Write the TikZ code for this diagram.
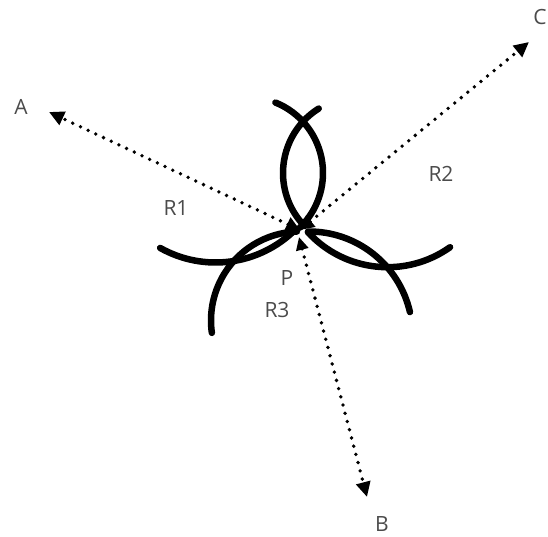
\documentclass[tikz,border=0pt]{standalone}
\usepackage{fontspec}
\setmainfont{Open Sans}
\usetikzlibrary{arrows.meta}
\definecolor{txt}{RGB}{75,75,75}
\tikzset{
  arcline/.style={line width=6.5pt, line cap=round, black},
  dotline/.style={line width=3.8pt, line cap=round, dash pattern=on 0pt off 8.5pt, black},
  lbl/.style={text=txt, font=\fontsize{21}{25}\selectfont, inner sep=0pt}
}
\begin{document}
\begin{tikzpicture}[x=1pt,y=1pt]
\useasboundingbox (0,0) rectangle (548,537);
% named points
\coordinate (P) at (300,307);
\coordinate (Pb) at (299,300);
\coordinate (A) at (49,425);
\coordinate (C) at (529,495);
\coordinate (B) at (367,40);
% arcs
\draw[arcline] ([shift={(247,364)}]68:76pt) arc[start angle=68, end angle=-46, radius=76pt];
\draw[arcline] ([shift={(359,364)}]122:76pt) arc[start angle=122, end angle=223, radius=76pt];
\draw[arcline] ([shift={(215.6,387.5)}]240.6:113pt) arc[start angle=240.6, end angle=314.6, radius=113pt];
\draw[arcline] ([shift={(387.5,377.8)}]222.5:108pt) arc[start angle=222.5, end angle=305.4, radius=108pt];
\draw[arcline] ([shift={(300,216.5)}]92:89pt) arc[start angle=92, end angle=188, radius=89pt];
\draw[arcline] ([shift={(309,202)}]90.5:103.5pt) arc[start angle=90.5, end angle=12.8, radius=103.5pt];
% dotted connectors
\draw[dotline, {Triangle[length=14pt,width=14pt]}-{Triangle[length=15pt,width=14pt]}] (P) -- (A);
\draw[dotline, {Triangle[length=14pt,width=14pt]}-{Triangle[length=15pt,width=14pt]}] (P) -- (C);
\draw[dotline, {Triangle[length=13pt,width=12pt]}-{Triangle[length=15pt,width=14pt]}] (Pb) -- (B);
% labels
\node[lbl] (lA) at (21,430) {A};
\node[lbl] (lC) at (540,520) {C};
\node[lbl] (lB) at (382,13) {B};
\node[lbl] (lP) at (287,259) {P};
\node[lbl] (lR1) at (176,329) {R1};
\node[lbl] (lR2) at (441,363) {R2};
\node[lbl] (lR3) at (277,227) {R3};
\end{tikzpicture}
\end{document}
